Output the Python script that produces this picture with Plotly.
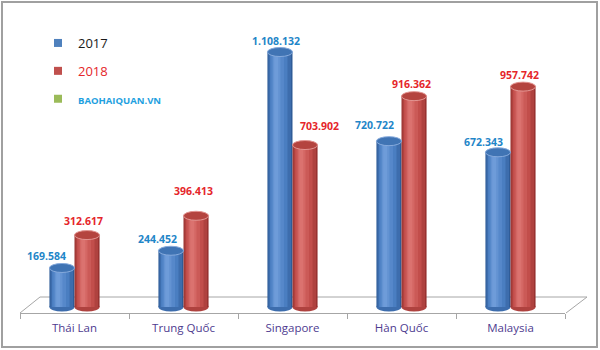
import plotly.graph_objects as go

# ---------------- data ----------------
categories = ["Thái Lan", "Trung Quốc", "Singapore", "Hàn Quốc", "Malaysia"]
v2017 = [169584, 244452, 1108132, 720722, 672343]
v2018 = [312617, 396413, 703902, 916362, 957742]
series_names = ["2017", "2018"]

# ---------------- layout geometry / style ----------------
W, H = 600, 350
ML, MR, MT, MB = 20, 35, 20, 37
PW, PH = W - ML - MR, H - MT - MB
YMIN, YMAX = -26075, 1247283
K = PH / (YMAX - YMIN)          # px per unit
BW = 0.23                        # bar width (category units)
CAP = 9 / K                      # ellipse cap height in data units

# label placement tweaks (px), mimicking the 3D-chart label positions
label_dx = {"2017": [-15, -13, -4, -14, -14], "2018": [-4, -3, 14, -3, -4]}
label_dy = {"2017": [12, 12, 11, 16, 10], "2018": [14, 25, 19, 12, 12]}


def px_to_paper(px, py):
    return (px - ML) / PW, (H - MB - py) / PH


styles = {
    "2017": dict(shades=["#2F5C98", "#3D6DAD", "#4A7EC1", "#5688CA", "#6393D2", "#6E9CD9"],
                 cap="#4074B4", rim="#86AADC", label="#1F86C8", offset=-BW),
    "2018": dict(shades=["#973230", "#AF423F", "#C24E4B", "#CB5A57", "#D46764", "#DB726F"],
                 cap="#B4443F", rim="#E39592", label="#E5262A", offset=0.0),
}
stripe_geom = [(0.0, 1.0), (0.04, 0.9), (0.1, 0.7), (0.16, 0.5), (0.22, 0.3), (0.27, 0.16)]

fig = go.Figure()
xs = list(range(len(categories)))
shapes = []
annotations = []

# floor (3D base outline)
pts = [px_to_paper(20, 313), px_to_paper(40, 297), px_to_paper(587, 297), px_to_paper(566, 313)]
path = "M {} {} L {} {} L {} {} L {} {}".format(*[c for p in pts for c in p])
shapes.append(dict(type="path", xref="paper", yref="paper", path=path,
                   line=dict(color="#A6A6A6", width=1), layer="below"))

for name, vals in zip(series_names, [v2017, v2018]):
    s = styles[name]
    off = s["offset"]
    # cylinder body built from shaded stripes
    for color, (fo, fw) in zip(s["shades"], stripe_geom):
        fig.add_trace(go.Bar(x=xs, y=vals, width=fw * BW, offset=off + fo * BW,
                             marker=dict(color=color, line=dict(width=0)),
                             showlegend=False, hoverinfo="skip", name=name))
    for i, v in enumerate(vals):
        x0, x1 = i + off, i + off + BW
        # bottom rounded ellipse
        shapes.append(dict(type="circle", xref="x", yref="y", x0=x0, x1=x1,
                           y0=-CAP / 2, y1=CAP / 2, fillcolor=s["shades"][1],
                           line=dict(width=0), layer="below"))
        # top cap
        shapes.append(dict(type="circle", xref="x", yref="y", x0=x0, x1=x1,
                           y0=v - CAP / 2, y1=v + CAP / 2, fillcolor=s["cap"],
                           line=dict(color=s["rim"], width=1), layer="above"))
        annotations.append(dict(x=(x0 + x1) / 2, y=v, xref="x", yref="y",
                                text=f"{v:,}".replace(",", "."), showarrow=False,
                                xshift=label_dx[name][i], yshift=label_dy[name][i],
                                font=dict(family="Open Sans", size=10.5,
                                          color=s["label"], weight="bold")))

# legend-only entries
legend_items = [
    ("2017", "#4F81BD", '<span style="color:#1A1A1A">2017</span>'),
    ("2018", "#C0504D", '<span style="color:#E5262A">2018</span>'),
    ("wm", "#9BBB59", '<span style="color:#1EA0E0;font-size:9.5px"><b>BAOHAIQUAN.VN</b></span>'),
]
for key, col, label in legend_items:
    fig.add_trace(go.Scatter(x=[None], y=[None], mode="markers", name=label,
                             legendgroup=key,
                             marker=dict(symbol="square", size=8, color=col)))

# outer frame
bx0, by0 = px_to_paper(2, 347)
bx1, by1 = px_to_paper(597, 2)
shapes.append(dict(type="rect", xref="paper", yref="paper", x0=bx0, y0=by0, x1=bx1, y1=by1,
                   line=dict(color="#A0A0A0", width=2), layer="below"))

lx, ly = px_to_paper(38, 28)
fig.update_layout(
    width=W, height=H,
    margin=dict(l=ML, r=MR, t=MT, b=MB),
    paper_bgcolor="white", plot_bgcolor="rgba(0,0,0,0)",
    barmode="overlay",
    showlegend=True,
    legend=dict(x=lx, y=ly, xanchor="left", yanchor="top", tracegroupgap=8,
                font=dict(family="Open Sans", size=13, color="#1A1A1A"),
                bgcolor="rgba(0,0,0,0)"),
    shapes=shapes,
    annotations=annotations,
    xaxis=dict(range=[-0.5, len(categories) - 0.5], tickmode="array", tickvals=xs,
               ticktext=categories, ticks="", showgrid=False, zeroline=False,
               showline=True, linecolor="#A6A6A6", linewidth=1,
               tickfont=dict(family="Open Sans", size=11.5, color="#4E3B8F"),
               ticklabelstandoff=4,
               minor=dict(tickmode="linear", tick0=-0.5, dtick=1, ticks="outside",
                          ticklen=5, tickcolor="#A6A6A6", showgrid=False)),
    yaxis=dict(range=[YMIN, YMAX], visible=False, showgrid=False, zeroline=False),
)

fig.write_html("out.html")
